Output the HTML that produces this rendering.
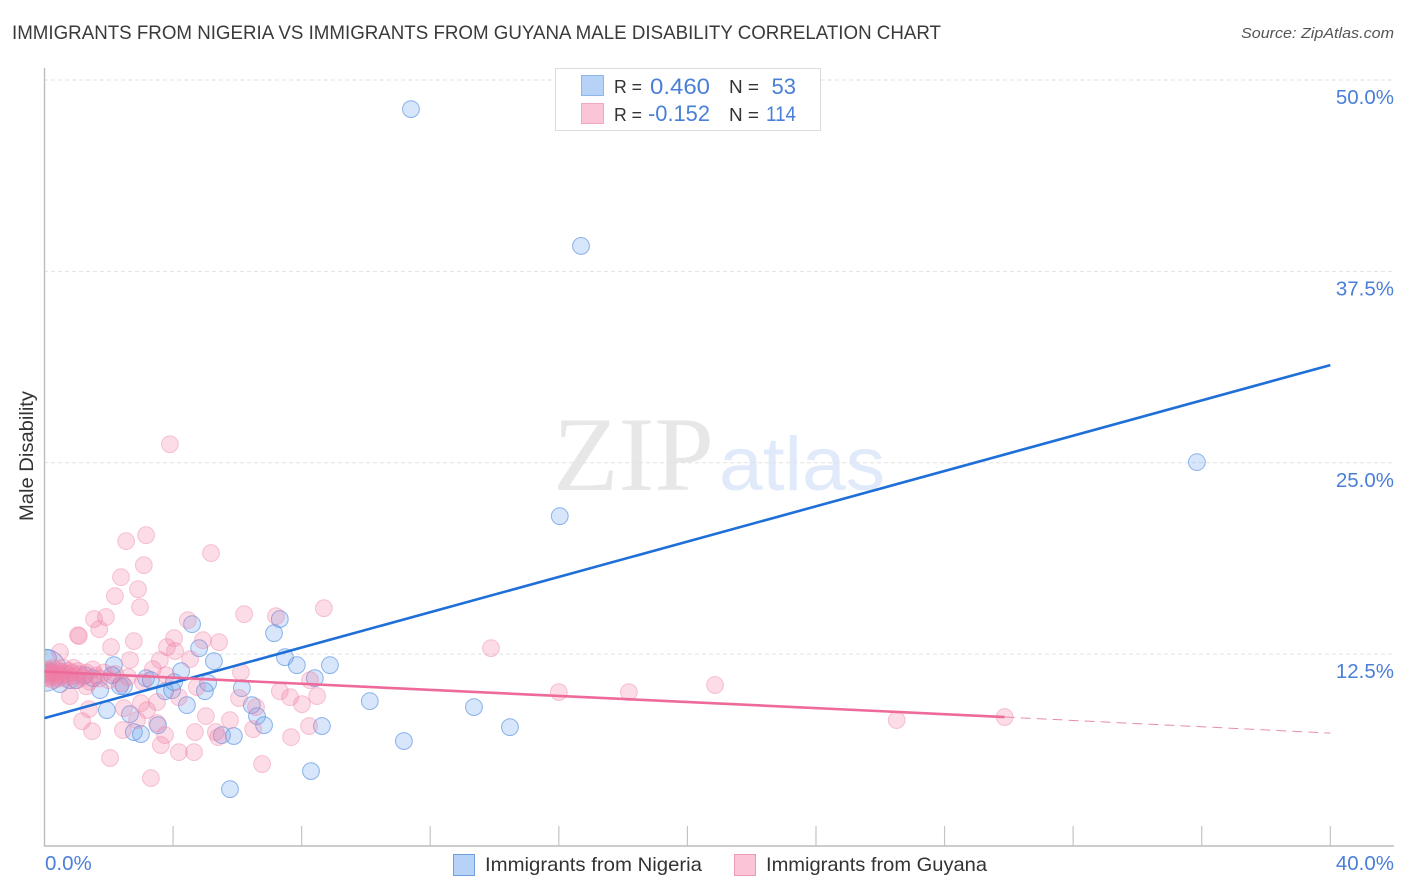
<!DOCTYPE html>
<html lang="en">
<head>
<meta charset="utf-8">
<title>Immigrants from Nigeria vs Immigrants from Guyana Male Disability Correlation Chart</title>
<style>
html,body{margin:0;padding:0;background:#fff;}
svg{display:block;font-family:"Liberation Sans",sans-serif;}
#dots-nigeria,#dots-guyana{filter:blur(0.3px);}
</style>
</head>
<body>
<svg id="chart" width="1406" height="892" viewBox="0 0 1406 892" xmlns="http://www.w3.org/2000/svg">
  <defs>
    <clipPath id="plot-clip"><rect x="45" y="60" width="1350" height="786"/></clipPath>
  </defs>
  <rect x="0" y="0" width="1406" height="892" fill="#ffffff"/>
  <text x="12" y="39" font-size="19.5" fill="#3a3a3a" textLength="929" lengthAdjust="spacingAndGlyphs">IMMIGRANTS FROM NIGERIA VS IMMIGRANTS FROM GUYANA MALE DISABILITY CORRELATION CHART</text>
  <text x="1394" y="38" font-size="15" font-style="italic" fill="#555" text-anchor="end" textLength="153" lengthAdjust="spacingAndGlyphs">Source: ZipAtlas.com</text>
  <g>
    <text x="553" y="490" font-family="'Liberation Serif',serif" font-size="106" fill="#e7e7e7" textLength="161" lengthAdjust="spacingAndGlyphs">ZIP</text>
    <text x="719" y="490" font-size="76" fill="#e0eafa" textLength="166" lengthAdjust="spacingAndGlyphs">atlas</text>
  </g>
  <g id="grid"></g>
  <g id="axes"></g>
  <g clip-path="url(#plot-clip)">
    <g id="dots-nigeria"></g>
    <g id="dots-guyana"></g>
  </g>
  <g id="trends"></g>
  <text transform="translate(33,456) rotate(-90)" font-size="19" fill="#333" text-anchor="middle" textLength="130" lengthAdjust="spacingAndGlyphs">Male Disability</text>
  <g>
    <rect x="555.5" y="68.5" width="265" height="62" fill="#ffffff" stroke="#dcdcdc" stroke-width="1"/>
    <rect x="581.5" y="75.5" width="22" height="20" fill="#b6d3f7" stroke="#8db6ea"/>
    <rect x="581.5" y="103.5" width="22" height="20" fill="#fcc5d7" stroke="#f3a8c0"/>
    <text x="614" y="93" font-size="18.5" fill="#333" textLength="28" lengthAdjust="spacingAndGlyphs">R =</text>
    <text x="710" y="94" font-size="22" fill="#4a7fd8" text-anchor="end" textLength="60" lengthAdjust="spacingAndGlyphs">0.460</text>
    <text x="729" y="93" font-size="18.5" fill="#333" textLength="30" lengthAdjust="spacingAndGlyphs">N =</text>
    <text x="796" y="94" font-size="22" fill="#4a7fd8" text-anchor="end">53</text>
    <text x="614" y="121" font-size="18.5" fill="#333" textLength="28" lengthAdjust="spacingAndGlyphs">R =</text>
    <text x="710" y="121" font-size="22" fill="#4a7fd8" text-anchor="end" textLength="62" lengthAdjust="spacingAndGlyphs">-0.152</text>
    <text x="729" y="121" font-size="18.5" fill="#333" textLength="30" lengthAdjust="spacingAndGlyphs">N =</text>
    <text x="766" y="121" font-size="21" fill="#4a7fd8" textLength="30" lengthAdjust="spacingAndGlyphs">114</text>
  </g>
  <g>
    <rect x="453.5" y="854.5" width="21" height="21" fill="#b6d3f7" stroke="#6f9fdf"/>
    <text x="485" y="871" font-size="19.5" fill="#333" textLength="217" lengthAdjust="spacingAndGlyphs">Immigrants from Nigeria</text>
    <rect x="734.5" y="854.5" width="21" height="21" fill="#fcc5d7" stroke="#ec9ab6"/>
    <text x="766" y="871" font-size="19.5" fill="#333" textLength="221" lengthAdjust="spacingAndGlyphs">Immigrants from Guyana</text>
  </g>
</svg>
<script>
var yTickValues = [50, 37.5, 25, 12.5];
var yTickLabels = ["50.0%", "37.5%", "25.0%", "12.5%"];
var xTickValues = [0, 4, 8, 12, 16, 20, 24, 28, 32, 36, 40];
var xEndLabels = ["0.0%", "40.0%"];

var nigeriaX = [11.40,16.69,35.85,16.03,4.59,7.32,7.14,4.81,7.48,7.85,8.88,8.41,5.27,4.25,5.09,6.14,4.99,4.43,3.75,3.97,4.03,2.16,2.35,2.47,3.16,3.31,1.73,1.94,2.66,3.53,2.78,3.00,5.52,5.89,6.45,6.61,6.83,8.63,10.12,13.36,14.48,11.18,8.29,5.77,0.11,0.17,0.02,0.48,0.79,1.26,1.51,2.10,0.98];
var nigeriaY = [48.1,39.16,25.04,21.51,14.46,14.79,13.87,12.89,12.30,11.78,11.78,10.93,12.04,11.39,10.61,10.28,10.08,9.17,10.08,10.15,10.67,11.78,10.41,10.41,10.93,10.80,10.15,8.84,8.58,7.86,7.41,7.28,7.21,7.15,9.17,8.45,7.86,7.80,9.43,9.04,7.73,6.82,4.86,3.68,12.24,11.32,11.45,10.54,10.80,11.13,10.93,11.13,10.80];
var nigeriaWeight = [1,1,1,1,1,1,1,1,1,1,1,1,1,1,1,1,1,1,1,1,1,1,1,1,1,1,1,1,1,1,1,1,1,1,1,1,1,1,1,1,1,1,1,1,1,1,2.5,1,1,1,1,1,1];

var guyanaX = [3.16,2.54,5.18,3.09,2.38,2.91,2.19,2.97,6.21,8.69,7.20,4.46,1.91,1.54,1.70,1.04,1.07,2.78,4.03,4.93,5.43,2.07,3.81,4.06,4.53,3.59,2.66,0.48,3.37,6.11,3.78,8.26,7.32,7.64,8.48,8.01,6.05,6.58,4.74,4.18,3.50,3.00,3.19,2.47,1.38,1.17,1.48,2.44,2.88,3.50,3.75,3.62,4.18,4.65,4.68,5.02,5.77,5.33,5.40,6.49,8.23,7.67,6.77,2.04,3.31,0.79,3.06,13.89,16.00,18.18,20.86,26.51,29.87,3.90,0.05,0.08,0.10,0.12,0.15,0.18,0.20,0.25,0.28,0.30,0.33,0.36,0.40,0.44,0.48,0.52,0.56,0.60,0.65,0.70,0.75,0.80,0.85,0.90,0.95,1.00,1.05,1.10,1.20,1.30,1.40,1.50,1.60,1.70,1.85,2.00,2.20,2.40,2.60,1.30];
var guyanaY = [20.27,19.88,19.10,18.31,17.53,16.74,16.29,15.57,15.11,15.50,14.98,14.72,14.92,14.79,14.13,13.74,13.68,13.35,13.54,13.41,13.28,12.96,12.96,12.70,12.17,12.11,12.11,12.63,11.52,11.32,11.13,10.80,10.08,9.69,9.76,9.23,9.63,9.04,10.35,9.69,9.37,9.30,8.84,8.97,8.91,8.12,7.47,7.54,8.19,7.99,7.21,6.56,6.10,6.10,7.41,8.45,8.19,7.41,7.08,7.60,7.80,7.08,5.32,5.71,4.40,9.76,10.67,12.89,10.02,10.02,10.48,8.19,8.39,26.21,11.3,11.0,11.5,11.2,10.9,11.4,11.1,11.6,10.8,11.3,11.0,11.5,11.2,10.9,11.4,11.1,11.3,11.6,10.9,11.2,11.4,11.0,11.3,11.6,11.1,10.8,11.4,11.2,11.0,11.3,10.7,11.5,11.1,10.9,11.3,10.8,11.2,10.6,11.0,10.4];

var nigeriaTrendX = [0, 40];
var nigeriaTrendY = [8.32, 31.38];
var guyanaTrendX = [0, 29.87];
var guyanaTrendY = [11.36, 8.39];
var guyanaDashX = [29.87, 40];
var guyanaDashY = [8.39, 7.34];

var NS = 'http://www.w3.org/2000/svg';
function xScale(v) { return 44.5 + v * 32.145; }
function yScale(v) { return 80 + (50 - v) * 15.31; }
function make(tag, attrs, parent) {
  var el = document.createElementNS(NS, tag);
  for (var k in attrs) { el.setAttribute(k, attrs[k]); }
  parent.appendChild(el);
  return el;
}

var grid = document.getElementById('grid');
var axes = document.getElementById('axes');
yTickValues.forEach(function (v, i) {
  var line = make('line', {x1: 44, x2: 1394, y1: yScale(v), y2: yScale(v), stroke: '#e2e2e2', 'stroke-width': 1, 'stroke-dasharray': '4 3'}, grid);
  
  
  var label = make('text', {x: 1394, y: yScale(v) + 24, 'font-size': 20.5, fill: '#4a7fd8', 'text-anchor': 'end'}, axes);
  label.textContent = yTickLabels[i];
  
  
});

var yAxis = make('line', {x1: 44.5, x2: 44.5, y1: 68, y2: 846.5, stroke: '#bcbcbc', 'stroke-width': 1.4}, axes);


var xAxis = make('line', {x1: 44, x2: 1394, y1: 846, y2: 846, stroke: '#bcbcbc', 'stroke-width': 1.4}, axes);


xTickValues.forEach(function (v) {
  if (v === 0) { return; }
  var tick = make('line', {x1: xScale(v), x2: xScale(v), y1: 826, y2: 846, stroke: '#c4c4c4', 'stroke-width': 1.2}, axes);
  
  
});
var xLeft = make('text', {x: 45, y: 870, 'font-size': 20.5, fill: '#4a7fd8'}, axes);
xLeft.textContent = xEndLabels[0];


var xRight = make('text', {x: 1394, y: 870, 'font-size': 20.5, fill: '#4a7fd8', 'text-anchor': 'end'}, axes);
xRight.textContent = xEndLabels[1];



var nigeriaGroup = document.getElementById('dots-nigeria');
nigeriaX.forEach(function (x, i) {
  var c = make('circle', {cx: xScale(x), cy: yScale(nigeriaY[i]), r: 8.4 * nigeriaWeight[i], fill: '#6aa3ee', 'fill-opacity': 0.27, stroke: '#4f8be0', 'stroke-opacity': 0.62, 'stroke-width': 1}, nigeriaGroup);
  
  
});
var guyanaGroup = document.getElementById('dots-guyana');
guyanaX.forEach(function (x, i) {
  var c = make('circle', {cx: xScale(x), cy: yScale(guyanaY[i]), r: 8.4, fill: '#f27fa6', 'fill-opacity': 0.27, stroke: '#ee7ea5', 'stroke-opacity': 0.42, 'stroke-width': 1}, guyanaGroup);
  
  
});

var trends = document.getElementById('trends');
var nigeriaLine = make('line', {x1: xScale(nigeriaTrendX[0]), x2: xScale(nigeriaTrendX[1]), y1: yScale(nigeriaTrendY[0]), y2: yScale(nigeriaTrendY[1]), stroke: '#1f6fd8', 'stroke-width': 2.6}, trends);


var guyanaLine = make('line', {x1: xScale(guyanaTrendX[0]), x2: xScale(guyanaTrendX[1]), y1: yScale(guyanaTrendY[0]), y2: yScale(guyanaTrendY[1]), stroke: '#ee6a9a', 'stroke-width': 2.6}, trends);


var guyanaDash = make('line', {x1: xScale(guyanaDashX[0]), x2: xScale(guyanaDashX[1]), y1: yScale(guyanaDashY[0]), y2: yScale(guyanaDashY[1]), stroke: '#e88cab', 'stroke-width': 1, 'stroke-dasharray': '10 6'}, trends);


</script>
</body>
</html>
